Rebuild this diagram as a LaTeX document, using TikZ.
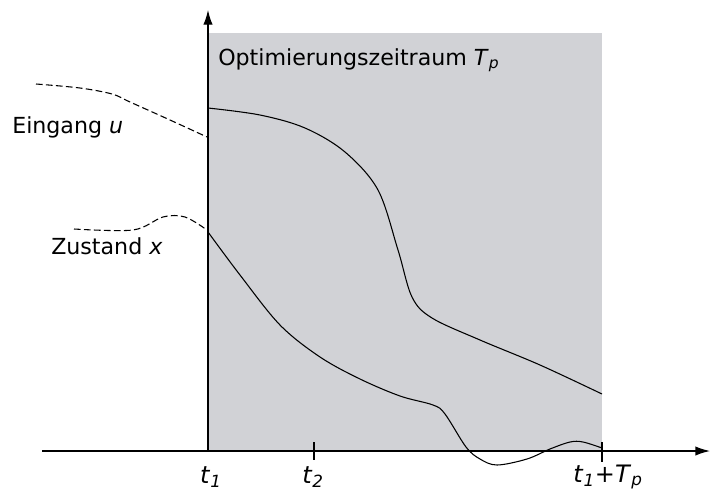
\documentclass[tikz,border=0pt]{standalone}
\usepackage{fontspec}
\setmainfont{DejaVu Sans}
\usetikzlibrary{arrows.meta, positioning}
\definecolor{zeitgrau}{HTML}{D1D2D6}

\begin{document}
\begin{tikzpicture}[
    x=0.75pt, y=-0.75pt,
    lbl/.style={font=\fontsize{16.6}{19}\selectfont, inner sep=0pt},
    tlbl/.style={font=\fontsize{18}{21}\selectfont, inner sep=0pt},
    achse/.style={-{Latex[length=11pt, width=7pt]}, line width=1pt},
    verlauf/.style={line width=0.8pt, smooth, tension=0.55},
    vorher/.style={verlauf, dash pattern=on 5pt off 2.5pt}
  ]
    \useasboundingbox (0,0) rectangle (711,490);
    % Optimierungszeitraum
    \fill[zeitgrau] (208,33) rectangle (602,451);
    \coordinate (o) at (208,451);
    \coordinate (xend) at (710,451);
    \coordinate (yend) at (208,10);
    \coordinate (xstart) at (42,451);
    \draw[achse] (xstart) -- (xend);
    \draw[achse] (o) -- (yend);
    % ticks
    \coordinate (t2top) at (314,442);
    \coordinate (t2bot) at (314,460);
    \coordinate (tptop) at (602,442);
    \coordinate (tpbot) at (602,462);
    \draw[line width=0.8pt] (t2top) -- (t2bot);
    \draw[line width=0.8pt] (tptop) -- (tpbot);
    % labels
    \node[tlbl] (lt1) at (211,477) {\textit{t}\textsubscript{\textit{1}}};
    \node[tlbl] (lt2) at (313,477) {\textit{t}\textsubscript{\textit{2}}};
    \node[tlbl] (ltp) at (608,477) {\textit{t}\textsubscript{\textit{1}}+\textit{T}\textsubscript{\textit{p}}};
    \node[lbl, anchor=west] (zeitraum) at (218,60)
      {Optimierungszeitraum \textit{T}\textsubscript{\textit{p}}};
    \node[lbl, anchor=west] (eingang) at (12,127) {Eingang \textit{u}};
    \node[lbl, anchor=west] (zustand) at (51,246) {Zustand \textit{x}};
    % Eingang u
    \draw[vorher] plot coordinates {(36,84) (80,88) (112,94) (130,102)
      (170,120) (207,137)};
    \draw[verlauf] plot coordinates {(208,108) (260,115) (305,128) (345,152)
      (378,190) (398,250) (412,297) (432,318) (480,340) (540,365) (602,394)};
    % Zustand x
    \draw[vorher] plot coordinates {(74,229) (133,230) (163,217) (185,217)
      (207,230)};
    \draw[verlauf] plot coordinates {(208,232) (240,275) (280,325) (320,357)
      (360,379) (400,396) (433,405) (445,414) (466,447) (480,459) (497,465)
      (527,459) (550,449) (570,442) (583,442) (602,448)};
  \end{tikzpicture}
\end{document}
